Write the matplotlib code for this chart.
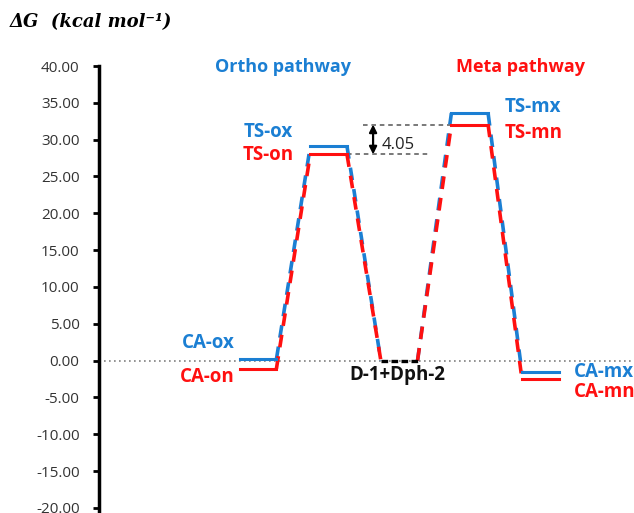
import numpy as np
import matplotlib
matplotlib.use('Agg')
import matplotlib.pyplot as plt

# energy levels (kcal/mol)
states = ['CA', 'TS-o', 'D', 'TS-m', 'CA-m']
x_series = [0.2, 29.1, 0.0, 33.6, -1.6]     # blue: CA-ox, TS-ox, D, TS-mx, CA-mx
n_series = [-1.1, 28.0, 0.0, 32.05, -2.5]   # red:  CA-on, TS-on, D, TS-mn, CA-mn
x_labels = ['CA-ox', 'TS-ox', '', 'TS-mx', 'CA-mx']
n_labels = ['CA-on', 'TS-on', '', 'TS-mn', 'CA-mn']
gap_label = '4.05'
yticks = np.arange(-20, 41, 5)

blue = '#1b7fd3'
red = '#ff1010'
font = 'Open Sans'
lab = dict(fontsize=13.5, fontweight='bold', family=font, va='center')

fig = plt.figure(figsize=(6.34, 5.13), dpi=100)
ax = fig.add_axes([99/634, 0.0, 533/634, 1 - 66/513])

pos = np.arange(1, len(states) + 1)
hw = 0.26

ax.axhline(0, color='#808080', ls=(0, (1, 2)), lw=1.2, zorder=1)

# connectors, then levels
for ys, col in [(x_series, blue), (n_series, red)]:
    for i in range(len(pos) - 1):
        ax.plot([pos[i] + hw, pos[i+1] - hw], [ys[i], ys[i+1]], color=col, lw=2.6,
                ls=(0, (3.5, 2.5)), zorder=3)
for ys, col in [(x_series, blue), (n_series, red)]:
    for i in range(len(pos)):
        if states[i] == 'D':
            continue
        ax.plot([pos[i] - hw, pos[i] + hw], [ys[i], ys[i]], color=col, lw=2.2, zorder=4)
# intermediate level
ax.plot([pos[2] - hw, pos[2] + hw], [x_series[2], x_series[2]], color='black', lw=2.4,
        ls=(0, (2, 1)), zorder=5)

# labels
ax.text(0.67, 2.4, x_labels[0], color=blue, ha='right', **lab)
ax.text(0.67, -2.2, n_labels[0], color=red, ha='right', **lab)
ax.text(1.50, 31.0, x_labels[1], color=blue, ha='right', **lab)
ax.text(1.50, 27.9, n_labels[1], color=red, ha='right', **lab)
ax.text(4.49, 34.4, x_labels[3], color=blue, ha='left', **lab)
ax.text(4.49, 30.9, n_labels[3], color=red, ha='left', **lab)
ax.text(5.47, -1.5, x_labels[4], color=blue, ha='left', **lab)
ax.text(5.47, -4.3, n_labels[4], color=red, ha='left', **lab)
ax.text(pos[2] - 0.03, -1.9, 'D-1+Dph-2', color='#111111', ha='center', **lab)

ax.text(1.35, 39.9, 'Ortho pathway', color=blue, ha='center', va='center',
        fontsize=13, fontweight='bold', family=font)
ax.text(4.72, 39.9, 'Meta pathway', color=red, ha='center', va='center',
        fontsize=13, fontweight='bold', family=font)

# barrier difference annotation
ax.plot([2.49, pos[3] - hw], [n_series[3], n_series[3]], color='#555555', lw=1.1, ls=(0, (3, 2.5)), zorder=2)
ax.plot([pos[1] + hw, 3.45], [n_series[1], n_series[1]], color='#555555', lw=1.1, ls=(0, (3, 2.5)), zorder=2)
ax.annotate('', xy=(2.63, n_series[3]), xytext=(2.63, n_series[1]),
            arrowprops=dict(arrowstyle='<|-|>', color='black', lw=1.6, mutation_scale=11,
                            shrinkA=0, shrinkB=0))
ax.text(2.75, 29.3, gap_label, ha='left', va='center',
        fontsize=12, color='#222222', family=font)

ax.set_xlim(-1.255, 6.30)
ax.set_ylim(-20.7, 40)
ax.set_yticks(yticks)
ax.set_yticklabels(['%.2f' % v for v in yticks], fontsize=11, color='#333333', family=font)
ax.set_xticks([])
for s in ['top', 'right', 'bottom']:
    ax.spines[s].set_visible(False)
ax.spines['left'].set_linewidth(2.5)
ax.spines['left'].set_bounds(-20.7, 40)
ax.tick_params(axis='y', direction='out', length=4, width=2, pad=10)

fig.text(10/634, 1 - 22/513, 'ΔG  (kcal mol⁻¹)', ha='left', va='center', fontsize=13,
         family='DejaVu Serif', fontweight='bold', fontstyle='italic')

fig.savefig('out.png', dpi=100)
